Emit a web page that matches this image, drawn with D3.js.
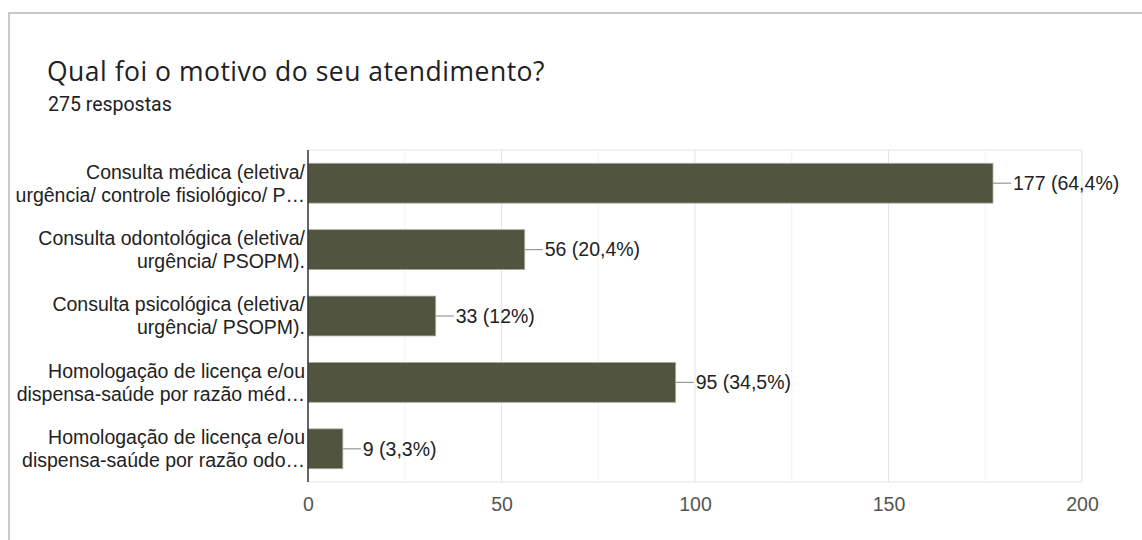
<!DOCTYPE html>
<html>
<head>
<meta charset="utf-8">
<script src="https://cdn.jsdelivr.net/npm/d3@7"></script>
<style>
  html, body { margin: 0; padding: 0; background: #fff; }
  svg { display: block; }
</style>
</head>
<body>
<svg id="chart" width="1142" height="540"></svg>
<script>
// Survey answers: reason for the visit
const title = "Qual foi o motivo do seu atendimento?";
const subtitle = "275 respostas";
const categories = [
  ["Consulta médica (eletiva/", "urgência/ controle fisiológico/ P…"],
  ["Consulta odontológica (eletiva/", "urgência/ PSOPM)."],
  ["Consulta psicológica (eletiva/", "urgência/ PSOPM)."],
  ["Homologação de licença e/ou", "dispensa-saúde por razão méd…"],
  ["Homologação de licença e/ou", "dispensa-saúde por razão odo…"]
];
const counts = [177, 56, 33, 95, 9];
const percents = ["64,4%", "20,4%", "12%", "34,5%", "3,3%"];
const ticks = [0, 50, 100, 150, 200];
const minorTicks = [25, 75, 125, 175];

const svg = d3.select("#chart");
const labelFont = "'Liberation Sans', Arial, sans-serif";
const labelSize = 19.5;

// card outline
svg.append("path")
  .attr("d", "M9,540 V13 H1142")
  .attr("fill", "none")
  .attr("stroke", "#c9c9c9")
  .attr("stroke-width", 2);

svg.append("text")
  .attr("x", 47).attr("y", 81)
  .attr("font-family", "'Open Sans', sans-serif")
  .attr("font-size", 26.5)
  .attr("letter-spacing", 0.5)
  .attr("fill", "#202124")
  .text(title);

svg.append("text")
  .attr("x", 48).attr("y", 111)
  .attr("font-family", "Roboto, sans-serif")
  .attr("font-size", 19.5)
  .attr("fill", "#202124")
  .text(subtitle);

const plot = { left: 308, right: 1082, top: 150, bottom: 482 };

const x = d3.scaleLinear().domain([0, 200]).range([plot.left, plot.right]);
const y = d3.scaleBand()
  .domain(d3.range(categories.length))
  .range([plot.top, plot.bottom])
  .paddingInner(0.4)
  .paddingOuter(0.2);

// gridlines
svg.append("g").selectAll("line").data(minorTicks).join("line")
  .attr("x1", d => x(d)).attr("x2", d => x(d))
  .attr("y1", plot.top).attr("y2", plot.bottom)
  .attr("stroke", "#f2f2f2").attr("stroke-width", 1);

svg.append("g").selectAll("line").data(ticks.slice(1)).join("line")
  .attr("x1", d => x(d)).attr("x2", d => x(d))
  .attr("y1", plot.top).attr("y2", plot.bottom)
  .attr("stroke", "#e6e6e6").attr("stroke-width", 1.2);

svg.append("line")
  .attr("x1", plot.left).attr("x2", plot.right)
  .attr("y1", plot.top).attr("y2", plot.top)
  .attr("stroke", "#e6e6e6").attr("stroke-width", 1.2);
svg.append("line")
  .attr("x1", plot.left).attr("x2", plot.right)
  .attr("y1", plot.bottom).attr("y2", plot.bottom)
  .attr("stroke", "#e6e6e6").attr("stroke-width", 1.2);

// x axis tick labels
const xAxis = d3.axisBottom(x).tickValues(ticks).tickSize(0).tickPadding(0);
const gx = svg.append("g")
  .attr("transform", `translate(0,${plot.bottom + 15})`)
  .call(xAxis);
gx.select(".domain").remove();
gx.selectAll("text")
  .attr("font-family", labelFont)
  .attr("font-size", labelSize)
  .attr("fill", "#555")
  .attr("dy", "0.71em");

// bars
svg.append("g").selectAll("rect").data(counts).join("rect")
  .attr("x", x(0))
  .attr("y", (d, i) => y(i))
  .attr("width", d => x(d) - x(0))
  .attr("height", y.bandwidth())
  .attr("fill", "#51543f")
  .attr("stroke", "#a9ab9f")
  .attr("stroke-width", 0.8);

// zero baseline
svg.append("line")
  .attr("x1", x(0)).attr("x2", x(0))
  .attr("y1", plot.top).attr("y2", plot.bottom)
  .attr("stroke", "#333").attr("stroke-width", 1.5);

// category labels
const cat = svg.append("g").selectAll("text").data(categories).join("text")
  .attr("text-anchor", "end")
  .attr("font-family", labelFont)
  .attr("font-size", labelSize)
  .attr("fill", "#222");
cat.selectAll("tspan").data((d, i) => d.map((line, j) => ({ line, j, i }))).join("tspan")
  .attr("x", 305)
  .attr("y", d => y(d.i) + y.bandwidth() / 2 + (d.j === 0 ? -11.5 : 11.5))
  .attr("dy", "0.35em")
  .text(d => d.line);

// value annotations with leader lines
const ann = svg.append("g").selectAll("g").data(counts).join("g");
ann.append("line")
  .attr("x1", d => x(d)).attr("x2", d => x(d) + 18)
  .attr("y1", (d, i) => y(i) + y.bandwidth() / 2)
  .attr("y2", (d, i) => y(i) + y.bandwidth() / 2)
  .attr("stroke", "#999").attr("stroke-width", 1.2);
ann.append("text")
  .attr("x", d => x(d) + 20)
  .attr("y", (d, i) => y(i) + y.bandwidth() / 2)
  .attr("dy", "0.35em")
  .attr("font-family", labelFont)
  .attr("font-size", labelSize)
  .attr("fill", "#222")
  .text((d, i) => `${d} (${percents[i]})`);
</script>
</body>
</html>
